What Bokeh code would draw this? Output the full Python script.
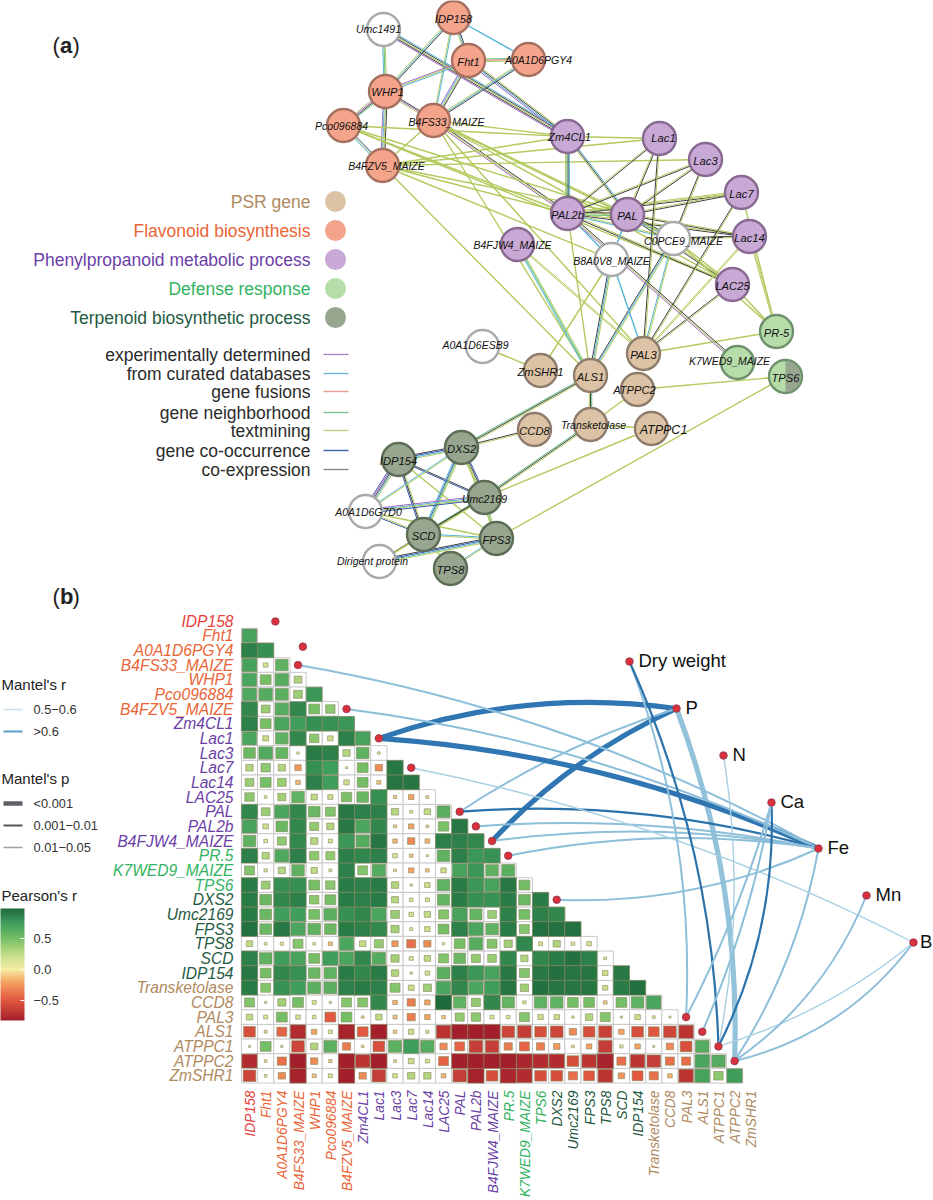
import math
from bokeh.plotting import figure
from bokeh.models import Range1d, LinearColorMapper, ColorBar, FixedTicker
from bokeh.core.properties import value
from bokeh.embed import file_html
from bokeh.resources import INLINE

# ---------- heat-map data ----------
species = ["IDP158","Fht1","A0A1D6PGY4","B4FS33_MAIZE","WHP1","Pco096884","B4FZV5_MAIZE","Zm4CL1","Lac1","Lac3",
           "Lac7","Lac14","LAC25","PAL","PAL2b","B4FJW4_MAIZE","PR.5","K7WED9_MAIZE","TPS6","DXS2","Umc2169","FPS3",
           "TPS8","SCD","IDP154","Transketolase","CCD8","PAL3","ALS1","ATPPC1","ATPPC2","ZmSHR1"]
species_group = ["F"]*7 + ["P"]*9 + ["D"]*3 + ["T"]*6 + ["S"]*7
r01 = [.72]
r02 = [.88,.82]
r03 = [.72,.15,.6]
r04 = [.7,.5,.65,.32]
r05 = [.68,.65,.62,.38,.78]
r06 = [.85,.38,.65,.85,.5,.42]
r07 = [.88,.5,.7,.75,.82,.8,.78]
r08 = [.7,.22,.6,.85,.42,.2,.88,.72]
r09 = [.55,.66,.57,.03,.9,.88,.3,.6,.04]
r10 = [.3,.42,.3,-.25,.82,.75,.01,.5,-.3,.92]
r11 = [.38,.5,.38,-.15,.88,.75,.2,.5,-.12,.93,.93]
r12 = [.42,.05,.35,.6,.25,.18,.48,.55,.82,-.08,-.2,-.06]
r13 = [.85,.38,.7,.85,.55,.45,.92,.88,.88,.3,.06,.25,.62]
r14 = [.72,.2,.55,.85,.4,.3,.92,.7,.85,-.07,-.2,-.05,.48,.92]
r15 = [.6,.1,.4,.85,.3,.12,.78,.65,.93,-.15,-.3,-.16,.88,.88,.85]
r16 = [.88,.3,.68,.88,.42,.4,.88,.85,.88,.15,-.1,.01,.6,.88,.78,.8]
r17 = [.45,.08,.3,.6,.25,.06,.88,.45,.65,-.05,-.2,-.1,.2,.72,.78,.6,.62]
r18 = [.9,.38,.82,.82,.5,.42,.9,.88,.9,.3,.03,.2,.6,.9,.78,.72,.92,.5]
r19 = [.9,.55,.85,.88,.42,.5,.9,.88,.9,.28,.1,.12,.58,.9,.82,.8,.9,.55,.9]
r20 = [.9,.55,.75,.75,.5,.62,.82,.85,.7,.38,.15,.25,.45,.72,.58,.38,.88,.5,.88,.85]
r21 = [.95,.55,.92,.7,.6,.55,.9,.88,.85,.35,.07,.2,.5,.88,.7,.6,.9,.45,.95,.95,.95]
r22 = [.25,.05,.08,.45,.04,-.12,.7,.25,.4,-.25,-.4,-.3,.03,.5,.65,.45,.35,.85,.12,.3,.1,.15]
r23 = [.88,.6,.75,.72,.5,.75,.7,.85,.65,.35,.12,.25,.45,.55,.4,.38,.85,.3,.85,.9,.95,.88,.06]
r24 = [.92,.5,.85,.8,.55,.6,.9,.85,.9,.3,.03,.15,.62,.88,.78,.72,.92,.45,.92,.95,.93,.93,.2,.92]
r25 = [.9,.45,.8,.75,.62,.62,.88,.9,.88,.45,.22,.35,.7,.85,.7,.75,.93,.35,.95,.93,.93,.93,.18,.9,.95]
r26 = [.45,.02,.35,.5,.12,.03,.45,.45,.85,-.15,-.35,-.2,.98,.6,.4,.85,.58,.08,.6,.6,.5,.5,-.1,.5,.6,.7]
r27 = [.25,.12,.5,.15,.1,-.5,.5,-.04,.25,-.12,-.35,-.2,-.1,.4,.42,.12,.1,.45,.2,.2,.03,.3,.45,-.02,.2,.05,.01]
r28 = [-.55,-.06,-.45,-.75,-.2,.12,-.8,-.5,-.9,-.1,.2,.08,-.7,-.9,-.85,-.95,-.6,-.65,-.55,-.6,-.3,-.55,-.62,-.2,-.55,-.5,-.6,-.7]
r29 = [.01,.5,-.02,-.6,.3,.62,-.35,-.04,-.55,.62,.75,.65,-.3,-.45,-.65,-.65,-.35,-.45,-.35,-.25,-.05,-.2,-.65,.08,-.2,.01,-.3,-.55,.65]
r30 = [-.75,-.05,-.4,-.95,-.3,-.08,-.98,-.7,-.95,-.05,.22,.12,-.45,-.95,-.98,-.85,-.95,-.78,-.75,-.75,-.55,-.7,-.8,-.4,-.7,-.65,-.4,-.4,.7,.65]
r31 = [-.6,.05,-.3,-.8,-.12,.12,-.85,-.3,-.65,.15,.3,.3,-.15,-.65,-.8,-.55,-.78,-.75,-.55,-.55,-.4,-.5,-.7,-.25,-.5,-.4,-.15,-.7,.72,.42,.75]
rows = [[],r01,r02,r03,r04,r05,r06,r07,r08,r09,r10,r11,r12,r13,r14,r15,r16,r17,r18,r19,r20,r21,r22,r23,r24,r25,r26,r27,r28,r29,r30,r31]

# ---------- Mantel data ----------
env_names = ["Dry weight","P","N","Ca","Fe","Mn","B"]
mantel_links = [
 ("Lac1","P","thick",.12),("B4FJW4_MAIZE","P","thick",.1),("PAL","P","light",.07),("ATPPC2","P","lightthick",-.1),
 ("Lac1","Fe","thick",.09),("B4FS33_MAIZE","Fe","light",.085),("B4FZV5_MAIZE","Fe","light",.08),("PAL","Fe","mid",.09),
 ("PAL2b","Fe","light",.07),("B4FJW4_MAIZE","Fe","light",.08),("PR.5","Fe","light",.09),("DXS2","Fe","light",-.12),
 ("ATPPC2","Fe","light",-.1),("Lac7","B","faint",.07),("ATPPC1","B","faint",-.1),("ATPPC2","B","light",-.18),
 ("ATPPC2","Mn","light",-.15),("PAL3","Dry weight","light",-.105),("ATPPC1","Dry weight","mid",-.1),("ATPPC1","N","faint",-.09),
 ("ATPPC1","Ca","mid",-.13),("PAL3","Ca","light",-.05),("ALS1","Ca","light",-.06),
]
free_dot_rows = [0.03,1.75]
free_dot_cols = [1.6,3.3]
dot_species = ["B4FS33_MAIZE","B4FZV5_MAIZE","Lac1","Lac7","PAL","PAL2b","B4FJW4_MAIZE","PR.5","DXS2","PAL3","ALS1","ATPPC1","ATPPC2"]
legend_r_labels = ["0.5\u22120.6",">0.6"]
legend_p_labels = ["<0.001","0.001\u22120.01","0.01\u22120.05"]

# ---------- network data ----------
nodes = {
 "Umc1491":(383,29,"W"),"IDP158":(453,17,"F"),"Fht1":(468,60,"F"),"A0A1D6PGY4":(528,59,"F"),"WHP1":(385,91,"F"),
 "Pco096884":(343,125,"F"),"B4FS33_MAIZE":(433,120,"F"),"B4FZV5_MAIZE":(382,165,"F"),"Zm4CL1":(567,136,"P"),
 "Lac1":(659,138,"P"),"Lac3":(705,159,"P"),"Lac7":(741,192,"P"),"Lac14":(749,236,"P"),"LAC25":(732,284,"P"),
 "PAL2b":(567,213,"P"),"PAL":(627,214,"P"),"B4FJW4_MAIZE":(517,244,"P"),"C0PCE9_MAIZE":(673,238,"W"),
 "B8A0V8_MAIZE":(611,259,"W"),"A0A1D6ESB9":(482,346,"W"),"ZmSHR1":(540,370,"S"),"ALS1":(590,375,"S"),
 "PAL3":(643,353,"S"),"ATPPC2":(637,389,"S"),"Transketolase":(590,424,"S"),"ATPPC1":(651,428,"S"),"CCD8":(534,429,"S"),
 "PR-5":(776,331,"D"),"K7WED9_MAIZE":(737,362,"D"),"TPS6":(785,376,"D"),"DXS2":(461,447,"T"),"IDP154":(398,459,"T"),
 "Umc2169":(484,497,"T"),"A0A1D6G7D0":(365,511,"W"),"SCD":(423,534,"T"),"FPS3":(496,538,"T"),
 "Dirigent protein":(379,561,"W"),"TPS8":(450,568,"T"),
}
label_shift = {"A0A1D6PGY4":(10,0),"B4FS33_MAIZE":(13,1),"B4FZV5_MAIZE":(4,0),"Umc1491":(-5,-1),"Pco096884":(-2,0),"C0PCE9_MAIZE":(10,2),
 "K7WED9_MAIZE":(-8,-2),"B4FJW4_MAIZE":(-5,0),"A0A1D6ESB9":(-7,-2),"A0A1D6G7D0":(3,0),"Transketolase":(3,0),"ATPPC1":(12,1),
 "ATPPC2":(-3,0),"Dirigent protein":(-7,-1),"WHP1":(2,0),"Zm4CL1":(2,0),"Lac1":(4,-1)}
big_labels = ["ATPPC1"]
edges = [
 ("Umc1491","WHP1","dnt"),("Umc1491","Zm4CL1","extxd"),("IDP158","WHP1","tdx"),("IDP158","Fht1","tdx"),("IDP158","B4FS33_MAIZE","td"),
 ("IDP158","A0A1D6PGY4","d"),("Fht1","A0A1D6PGY4","tfn"),("Fht1","WHP1","etd"),("Fht1","B4FS33_MAIZE","edtx"),("Fht1","Zm4CL1","edxt"),
 ("A0A1D6PGY4","B4FS33_MAIZE","tdx"),("WHP1","Pco096884","texn"),("WHP1","B4FS33_MAIZE","tex"),("WHP1","B4FZV5_MAIZE","edtx"),
 ("Pco096884","B4FZV5_MAIZE","dtc"),("B4FS33_MAIZE","PAL2b","etx"),("B4FS33_MAIZE","B4FZV5_MAIZE","t"),("Pco096884","Zm4CL1","t"),
 ("Pco096884","PAL2b","t"),("Pco096884","PAL","t"),("Pco096884","LAC25","t"),("B4FS33_MAIZE","Zm4CL1","t"),("B4FS33_MAIZE","PAL","tt"),
 ("B4FS33_MAIZE","C0PCE9_MAIZE","t"),("B4FS33_MAIZE","LAC25","t"),("B4FS33_MAIZE","ALS1","t"),("B4FS33_MAIZE","PAL3","t"),
 ("B4FZV5_MAIZE","Zm4CL1","t"),("B4FZV5_MAIZE","Lac1","t"),("B4FZV5_MAIZE","Lac3","t"),("B4FZV5_MAIZE","PAL2b","t"),("B4FZV5_MAIZE","PAL","t"),
 ("B4FZV5_MAIZE","B8A0V8_MAIZE","t"),("B4FZV5_MAIZE","ALS1","t"),("Zm4CL1","PAL2b","tnxd"),("Zm4CL1","PAL","txd"),("Zm4CL1","Lac1","t"),
 ("PAL2b","Lac1","xt"),("PAL2b","Lac3","xt"),("PAL2b","Lac7","xtt"),("PAL2b","Lac14","xt"),("PAL2b","LAC25","xt"),("PAL2b","PAL","ntx"),
 ("PAL2b","C0PCE9_MAIZE","dt"),("PAL2b","B8A0V8_MAIZE","d"),("PAL","Lac1","xt"),("PAL","Lac3","xt"),("PAL","Lac7","xt"),("PAL","Lac14","xt"),
 ("PAL","LAC25","xt"),("PAL","C0PCE9_MAIZE","dtx"),("PAL","B8A0V8_MAIZE","d"),("Lac1","PAL3","xt"),("Lac3","C0PCE9_MAIZE","xt"),
 ("Lac7","PAL3","xt"),("Lac14","PAL3","tt"),("LAC25","PAL3","xt"),("Lac14","C0PCE9_MAIZE","xt"),("LAC25","C0PCE9_MAIZE","t"),("Lac7","PR-5","t"),
 ("Lac14","PR-5","tt"),("LAC25","PR-5","t"),("C0PCE9_MAIZE","PR-5","t"),("PAL3","PR-5","t"),("C0PCE9_MAIZE","ALS1","xdt"),("C0PCE9_MAIZE","PAL3","dt"),
 ("B8A0V8_MAIZE","ALS1","xdt"),("B8A0V8_MAIZE","PAL3","d"),("B8A0V8_MAIZE","ZmSHR1","t"),("PAL2b","ALS1","t"),("PAL2b","K7WED9_MAIZE","etx"),
 ("B4FJW4_MAIZE","ALS1","dnt"),("B4FJW4_MAIZE","PAL3","tt"),("TPS6","ATPPC2","t"),("TPS6","FPS3","t"),("ATPPC2","Transketolase","t"),
 ("Umc2169","ATPPC1","t"),("Transketolase","ATPPC1","t"),("Transketolase","ALS1","nxt"),("Transketolase","Umc2169","nxt"),("ALS1","DXS2","nxt"),
 ("CCD8","DXS2","xt"),("A0A1D6ESB9","ZmSHR1","t"),("IDP154","DXS2","tdcx"),("IDP154","Umc2169","cx"),("IDP154","A0A1D6G7D0","cexdt"),
 ("IDP154","SCD","cxt"),("IDP154","FPS3","t"),("DXS2","A0A1D6G7D0","dt"),("DXS2","SCD","dcnt"),("DXS2","Umc2169","ntxc"),("DXS2","FPS3","t"),
 ("Umc2169","A0A1D6G7D0","edtc"),("Umc2169","SCD","nxt"),("Umc2169","FPS3","nt"),("Umc2169","Dirigent protein","xt"),("A0A1D6G7D0","SCD","ct"),
 ("A0A1D6G7D0","FPS3","t"),("SCD","FPS3","td"),("SCD","TPS8","t"),("SCD","Dirigent protein","t"),("FPS3","Dirigent protein","xcdt"),("FPS3","TPS8","dt"),
]
group_names = ["PSR gene","Flavonoid biosynthesis","Phenylpropanoid metabolic process","Defense response","Terpenoid biosynthetic process"]
group_keys = ["S","F","P","D","T"]
link_names = ["experimentally determined","from curated databases","gene fusions","gene neighborhood","textmining","gene co-occurrence","co-expression"]
link_keys = ["e","d","f","n","t","c","x"]

# ---------- styles ----------
FONT = value("Liberation Sans")
text_col = {"S":"#b08a5e","F":"#ea6538","P":"#6b3fa6","D":"#33b35f","T":"#1f5a42"}
fill_col = {"S":"#ddc3a5","F":"#f5a48c","P":"#c8a8d5","D":"#b6dcaa","T":"#97a68e","W":"#ffffff"}
line_col = {"S":"#8d7b6c","F":"#a5705f","P":"#88698f","D":"#6f906c","T":"#5c6c55","W":"#a9a9a9"}
edge_col = {"e":"#a468c4","d":"#55b5d6","f":"#e4736d","n":"#5cbf75","t":"#b3ca5e","c":"#3557ad","x":"#3f3f46"}
legend_edge_col = {"e":"#b286c8","d":"#6eb1d6","f":"#eb9a92","n":"#79c48f","t":"#c5cf86","c":"#3b63ad","x":"#85858d"}
link_style = {"thick":("#2f76b2",5.2),"mid":("#2b72aa",2.2),"light":("#8dbfda",2.0),"lightthick":("#93c2db",5.2),"faint":("#a9cfe3",1.4)}

p = figure(width=933, height=1200, output_backend="svg", toolbar_location=None,
           x_range=Range1d(0,933), y_range=Range1d(1200,0), min_border=0,
           x_axis_location=None, y_axis_location=None)
p.grid.visible = False
p.outline_line_color = None
p.background_fill_color = "white"

def txt(x,y,t,size,color="#222222",align="left",style="normal",angle=0):
    p.text([x],[y],[t],text_font=FONT,text_font_size=f"{size}px",text_color=color,text_align=align,
           text_baseline="middle",text_font_style=style,angle=angle)

# ---------- panel labels ----------
for yy,l in ((45,"a"),(596,"b")):
    txt(52,yy,"(",22); txt(59.5,yy,l,22,style="bold"); txt(72,yy,")",22)

# ---------- network ----------
ex,ey,ec,ew = [],[],[],[]
for a,b,kinds in edges:
    x0,y0,_ = nodes[a]; x1,y1,_ = nodes[b]
    d = math.hypot(x1-x0,y1-y0); nx,ny = (y1-y0)/d,-(x1-x0)/d
    n = len(kinds)
    for k,c in enumerate(kinds):
        o = (k-(n-1)/2)*1.25
        ex.append([x0+nx*o,x1+nx*o]); ey.append([y0+ny*o,y1+ny*o]); ec.append(edge_col[c]); ew.append(1.0 if n>1 else 1.4)
p.multi_line(ex,ey,line_color=ec,line_width=ew)
names = list(nodes)
p.circle([nodes[n][0] for n in names],[nodes[n][1] for n in names],radius=16.5,
         fill_color=[fill_col[nodes[n][2]] for n in names],line_color=[line_col[nodes[n][2]] for n in names],line_width=2.4)
tx,ty,_ = nodes["TPS6"]
p.wedge([tx],[ty],radius=15.5,start_angle=-math.pi/2,end_angle=math.pi/2,fill_color=fill_col["T"],line_color=None)
for n in names:
    dx,dy = label_shift.get(n,(0,1))
    size = 12.5 if n in big_labels else (11.2 if len(n)<7 else 10.5)
    txt(nodes[n][0]+dx,nodes[n][1]+dy,n,size,"#111111","center","italic")

# network legends
for i,(g,k) in enumerate(zip(group_names,group_keys)):
    yy = [201,230,259,288,317][i]
    txt(310,yy,g,17.5,text_col[k],"right")
    p.circle([335],[yy],radius=10.5,fill_color=fill_col[k],line_color=None)
for i,(l,k) in enumerate(zip(link_names,link_keys)):
    yy = [354,373,391,412,430,450,469][i]
    txt(310,yy,l,17.5,"#2b2b2b","right")
    p.line([323,348],[yy,yy],line_color=legend_edge_col[k],line_width=1.4)

# ---------- heat map ----------
X0,DX,Y0,DY = 249.0,16.17,620.5,14.67
cx = lambda c: X0+DX*c
cy = lambda r: Y0+DY*r
anch = [(-.82,"#a31f2b"),(-.5,"#e2573f"),(-.2,"#f6a261"),(0,"#f5eea5"),(.25,"#c1dc85"),(.5,"#74bf66"),(.75,"#3f9e5c"),(.98,"#1f6a3c")]
def h2r(h): return [int(h[i:i+2],16) for i in (1,3,5)]
palette = []
for i in range(256):
    v = min(.98,-.82+1.8*i/255)
    for (a,ca),(b,cb) in zip(anch,anch[1:]):
        if a<=v<=b:
            t=(v-a)/(b-a); ra,rb=h2r(ca),h2r(cb)
            palette.append("#%02x%02x%02x"%tuple(round(u+(w-u)*t) for u,w in zip(ra,rb))); break
mapper = LinearColorMapper(palette=palette,low=-.82,high=.98)
hx,hy,hv,hs = [],[],[],[]
for i,row in enumerate(rows):
    for j,v in enumerate(row):
        hx.append(cx(j)); hy.append(cy(i)); hv.append(v); hs.append(min(1.0,abs(v)*1.1+.12))
p.rect(hx,hy,width=DX,height=DY,fill_color="white",line_color="#c9c9c9",line_width=1)
p.rect(hx,hy,width=[s*DX for s in hs],height=[s*DY for s in hs],
       fill_color=[palette[max(0,min(255,round((v+.82)/1.8*255)))] for v in hv],line_color="#85855f",line_alpha=.6,line_width=1)
for i,(s,g) in enumerate(zip(species,species_group)):
    col = "#e8403c" if i==0 else text_col[g]
    txt(233,cy(i),s,15.6,col,"right","italic")
    txt(cx(i)+1,1090,s,13.8,col,"right","italic",angle=math.pi/2)

# ---------- Mantel links ----------
env_x = [629,676,723,771,818,866,913]
env_y = [661,708,755,802,848,895,942]
for sp,en,cls,k in mantel_links:
    i = species.index(sp); e = env_names.index(en)
    x0,y0,x1,y1 = cx(i),cy(i),env_x[e],env_y[e]
    col,w = link_style[cls]
    p.quadratic(x0=[x0],y0=[y0],x1=[x1],y1=[y1],cx=[(x0+x1)/2+k*(y1-y0)],cy=[(y0+y1)/2-k*(x1-x0)],line_color=col,line_width=w)
dx_ = [cx(species.index(s)) for s in dot_species]+[cx(c) for c in free_dot_cols]+env_x
dy_ = [cy(species.index(s)) for s in dot_species]+[cy(r) for r in free_dot_rows]+env_y
p.circle(dx_,dy_,radius=3.8,fill_color="#d9303c",line_color="#8c3a50",line_width=.8)
for n,x,y in zip(env_names,env_x,env_y):
    txt(x+(6.5 if n=="B" else 9),y-1,n,18.5,"#111111")

# ---------- left legends ----------
LX = 1
txt(LX,684,"Mantel's r",15)
for l,yy,c,w in zip(legend_r_labels,(709,731),("#c6dfec","#5d9cc6"),(1.6,1.8)):
    txt(33,yy,l,12.8,"#333333"); p.line([3,22],[yy,yy],line_color=c,line_width=w)
txt(LX,778,"Mantel's p",15)
for l,yy,c,w in zip(legend_p_labels,(803,825,847),("#5f6066","#55565c","#a0a0a0"),(4.5,2,1.6)):
    txt(33,yy,l,12.8,"#333333"); p.line([3,22],[yy,yy],line_color=c,line_width=w)
txt(LX,895,"Pearson's r",15)
cb = ColorBar(color_mapper=mapper,ticker=FixedTicker(ticks=[-.5,0,.5]),location=(0,180),width=24,height=112,padding=0,margin=0,
              major_label_overrides={-.5:"\u22120.5",0:"0.0",.5:"0.5"},major_label_text_font="Liberation Sans",major_label_text_font_size="12.8px",
              major_label_text_color="#333333",major_tick_line_color="white",major_tick_in=4,major_tick_out=0,minor_tick_line_color=None,
              bar_line_color=None,border_line_color=None,background_fill_color=None,label_standoff=9)
p.add_layout(cb,"center")

open("out.html","w").write(file_html(p,INLINE))
